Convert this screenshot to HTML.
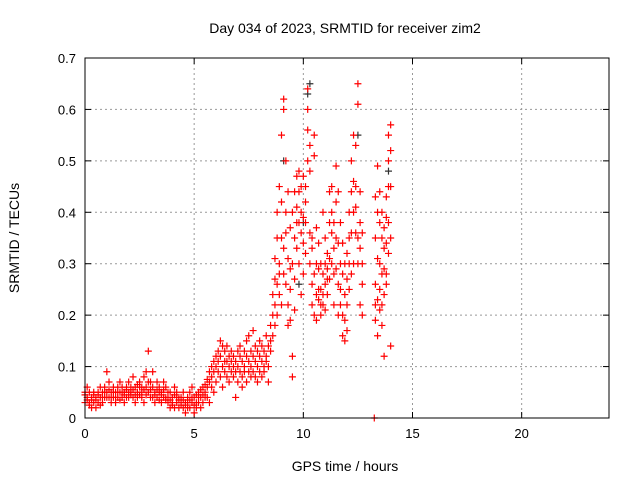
<!DOCTYPE html>
<html><head><meta charset="utf-8"><style>
body{margin:0;background:#fff;}
svg{display:block;font-family:"Liberation Sans",sans-serif;}
</style></head><body>
<svg id="chart" width="640" height="480">
<text x="345" y="33" font-size="14" text-anchor="middle">Day 034 of 2023, SRMTID for receiver zim2</text>
<text x="345" y="471" font-size="14" text-anchor="middle">GPS time / hours</text>
<text transform="translate(19,238) rotate(-90)" font-size="14" text-anchor="middle">SRMTID / TECUs</text>
<g id="grid"></g><g id="ticks"></g><g id="marks"></g>
<rect x="85" y="58" width="524" height="360" fill="none" stroke="#000" stroke-width="1"/>
</svg>
<script>
const xTicks=[0,5,10,15,20];
const yTicks=[0,0.1,0.2,0.3,0.4,0.5,0.6,0.7];
const yTickLabels=["0","0.1","0.2","0.3","0.4","0.5","0.6","0.7"];
const redTimes=[0.0,0.1,0.2,0.3,0.4,0.5,0.6,0.7,0.8,0.9,1.0,1.1,1.2,1.3,1.4,1.5,1.6,1.7,1.8,1.9,2.0,2.1,2.2,2.3,2.4,2.5,2.6,2.7,2.8,2.9,3.0,3.1,3.2,3.3,3.4,3.5,3.6,3.7,3.8,3.9,4.0,4.1,4.2,4.3,4.4,4.5,4.6,4.7,4.8,4.9,5.0,5.1,5.2,5.3,5.4,5.5,5.6,5.7,5.8,5.9,
6.0,6.1,6.2,6.3,6.4,6.5,6.6,6.7,6.8,6.9,7.0,7.1,7.2,7.3,7.4,7.5,7.6,7.7,7.8,7.9,8.0,8.1,8.2,8.3,8.4,8.5,8.6,
8.7,8.8,8.9,9.0,9.1,9.2,9.3,9.4,9.5,9.6,9.7,9.8,9.9,10.0,10.1,10.2,10.3,10.4,10.5,10.6,10.7,10.8,10.9,11.0,11.1,11.2,11.3,11.4,11.5,11.6,11.7,11.8,11.9,12.0,12.1,12.2,12.3,12.4,12.5,12.6,12.7,
13.25,13.3,13.4,13.5,13.6,13.7,13.8,13.9,14.0];
const redValues=[[.05,.03,.045],[.04,.06,.035],[.03,.05,.025],[.02,.04,.035],[.05,.03,.045],[.04,.02,.035],[.03,.05,.045],[.04,.06,.025],[.05,.03,.04],[.06,.04,.05],[.09,.05,.04],[.07,.04,.055],[.03,.05,.04],[.04,.06,.05],[.05,.03,.04],[.06,.04,.05],[.05,.07,.035],[.04,.06,.05],[.03,.05,.045],[.06,.04,.055],[.07,.05,.04],[.05,.06,.045],[.04,.08,.055],[.06,.03,.045],[.05,.04,.065],[.07,.06,.045],[.05,.04,.06],[.08,.03,.055],[.06,.09,.045],[.13,.05,.07],[.07,.04,.055],[.09,.06,.04],[.05,.03,.045],[.04,.07,.055],[.06,.05,.035],[.05,.03,.045],[.07,.04,.055],[.04,.06,.035],[.03,.05,.04],[.05,.02,.035],[.04,.03,.025],[.06,.02,.045],[.03,.05,.04],[.02,.04,.035],[.04,.03,.025],[.05,.02,.035],[.03,.01,.025],[.04,.02,.03],[.02,.05,.035],[.03,.06,.04],[.01,.04,.025],[.03,.02,.045],[.05,.03,.04],[.04,.02,.055],[.06,.03,.045],[.05,.04,.065],[.04,.06,.075],[.07,.03,.09],[.06,.08,.1],[.09,.05,.11],
[.10,.07,.12],[.09,.13,.11],[.12,.08,.15],[.10,.14,.06],[.13,.09,.11],[.11,.08,.14],[.10,.12,.07],[.09,.13,.11],[.08,.12,.10],[.11,.04,.09],[.10,.13,.07],[.12,.09,.14],[.08,.11,.06],[.10,.13,.09],[.12,.07,.15],[.11,.16,.09],[.13,.10,.08],[.09,.12,.17],[.11,.14,.08],[.10,.13,.07],[.12,.09,.15],[.11,.14,.08],[.13,.10,.09],[.12,.16,.11],[.10,.14,.07],[.18,.13,.15],[.20,.16,.24],
[.22,.27,.18,.31],[.26,.35,.20,.40],[.30,.24,.45,.28],[.35,.22,.42,.55],[.60,.62,.33,.28],[.40,.26,.36,.50],[.22,.31,.44,.18],[.19,.29,.37,.25],[.08,.12,.30,.40],[.35,.44,.27,.21],[.41,.47,.38,.33],[.38,.48,.30,.44],[.45,.40,.36,.24],[.47,.39,.34,.28],[.42,.38,.45,.32],[.64,.60,.56,.50],[.53,.48,.36,.30],[.33,.26,.35,.22],[.55,.51,.28,.20],[.37,.30,.24,.19],[.29,.25,.34,.23],[.25,.22,.30,.20],[.40,.28,.22,.24],[.30,.26,.35,.21],[.29,.27,.24,.32],[.44,.38,.31,.27],[.45,.40,.36,.30],[.38,.28,.22,.33],[.49,.42,.35,.29],[.44,.34,.26,.20],[.38,.30,.25,.22],[.20,.16,.28,.34],[.24,.19,.15,.30],[.27,.22,.17,.32],[.35,.30,.25,.40],[.50,.44,.36,.28],[.55,.46,.40,.30],[.53,.45,.41,.36],[.65,.61,.35,.30],[.44,.38,.33,.22],[.30,.26,.20,.36],
[0.0],[.19,.22,.26,.35,.43],[.49,.40,.31,.23,.16],[.30,.25,.21,.38,.44],[.40,.35,.28,.22,.18],[.37,.33,.29,.24,.12],[.43,.39,.34,.28,.26],[.55,.50,.45,.38,.32],[.57,.52,.45,.35,.14]];
const blackTimes=[10.3,10.2,12.5,9.1,13.9,10.0,9.8];
const blackValues=[.65,.63,.55,.50,.48,.38,.26];

const L=85,R=609,T=58,B=418,X0=0,X1=24,Y0=0,Y1=0.7;
const xs=v=>L+(v-X0)/(X1-X0)*(R-L);
const ys=v=>B-(v-Y0)/(Y1-Y0)*(B-T);
const NS="http://www.w3.org/2000/svg";
function mk(tag,attrs,parent){const e=document.createElementNS(NS,tag);for(const k in attrs)e.setAttribute(k,attrs[k]);parent.appendChild(e);return e;}
const grid=document.getElementById('grid'),ticks=document.getElementById('ticks'),marks=document.getElementById('marks');
xTicks.forEach(t=>{const x=xs(t);
 if(t>X0){const g=mk('line',{x1:x,x2:x,y1:T,y2:B,stroke:'#999','stroke-dasharray':'2,3'},grid);
 
 }
 mk('line',{x1:x,x2:x,y1:B,y2:B-6,stroke:'#000'},ticks);mk('line',{x1:x,x2:x,y1:T,y2:T+6,stroke:'#000'},ticks);
 const tx=mk('text',{x:x,y:B+20,'font-size':13,'text-anchor':'middle'},ticks);tx.textContent=t;
 
 });
yTicks.forEach((t,i)=>{const y=ys(t);
 if(t>Y0&&t<Y1){const g=mk('line',{x1:L,x2:R,y1:y,y2:y,stroke:'#999','stroke-dasharray':'2,3'},grid);
 
 }
 mk('line',{x1:L,x2:L+6,y1:y,y2:y,stroke:'#000'},ticks);mk('line',{x1:R,x2:R-6,y1:y,y2:y,stroke:'#000'},ticks);
 const tx=mk('text',{x:L-9,y:y+5,'font-size':13,'text-anchor':'end'},ticks);tx.textContent=yTickLabels[i];
 
 });
function plus(t,v,color,name){const x=xs(t),y=ys(v);
 const p=mk('path',{d:`M${x-3.5},${y}h7M${x},${y-3.5}v7`,stroke:color,'stroke-width':1.2,fill:'none'},marks);
 
 }
blackTimes.forEach((t,i)=>plus(t,blackValues[i],'#333','black-point'));
redTimes.forEach((t,i)=>redValues[i].forEach(v=>plus(t,v,'#f00','srmtid-point')));
</script>
</body></html>
